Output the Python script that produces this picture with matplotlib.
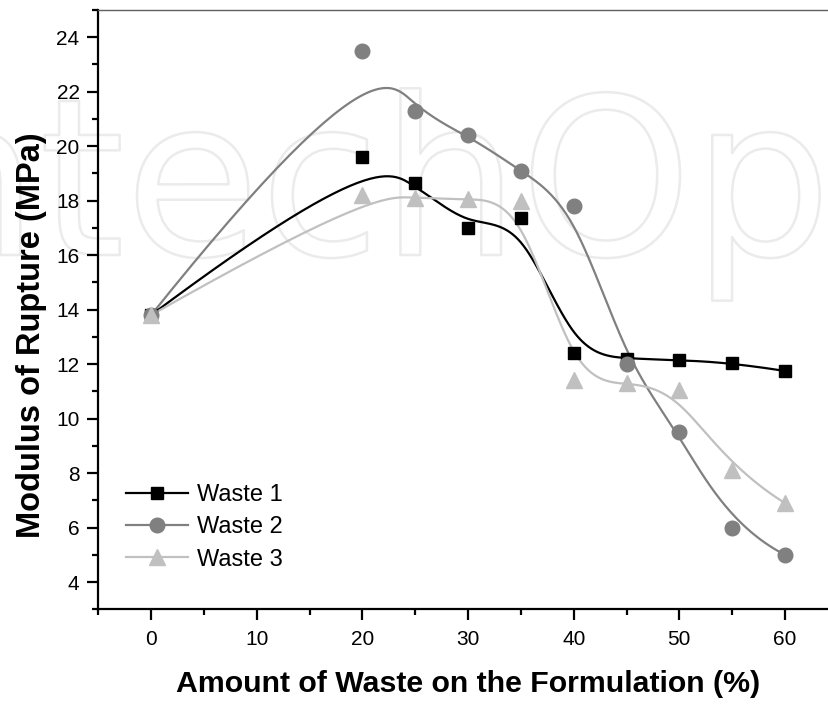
import numpy as np
import matplotlib
matplotlib.use("Agg")
import matplotlib.pyplot as plt
import matplotlib.patheffects as pe
from matplotlib.ticker import MultipleLocator

plt.rcParams['font.family'] = ['Liberation Sans', 'DejaVu Sans']

# data
waste_pct = [0, 20, 25, 30, 35, 40, 45, 50, 55, 60]
waste1 = [13.8, 19.6, 18.65, 17.0, 17.35, 12.4, 12.2, 12.15, 12.05, 11.75]
waste2 = [13.8, 23.5, 21.3, 20.4, 19.1, 17.8, 12.0, 9.5, 6.0, 5.0]
waste3 = [13.8, 18.2, 18.1, 18.05, 18.0, 11.4, 11.3, 11.05, 8.1, 6.9]
labels = ['Waste 1', 'Waste 2', 'Waste 3']


def bspline(xs, ys, n=400, k=3):
    # clamped uniform B-spline, data points used as control points
    P = np.column_stack([xs, ys]).astype(float)
    m = len(P)
    knots = np.concatenate([[0] * k, np.arange(m - k + 1), [m - k] * k]).astype(float)
    t = np.linspace(0, m - k, n)
    B = np.zeros((n, len(knots) - 1))
    for i in range(len(knots) - 1):
        B[:, i] = (knots[i] <= t) & (t < knots[i + 1])
    B[-1, m - 1] = 1.0
    for p in range(1, k + 1):
        Bn = np.zeros((n, len(knots) - 1 - p))
        for i in range(len(knots) - 1 - p):
            d1 = knots[i + p] - knots[i]
            d2 = knots[i + p + 1] - knots[i + 1]
            if d1 > 0:
                Bn[:, i] += (t - knots[i]) / d1 * B[:, i]
            if d2 > 0:
                Bn[:, i] += (knots[i + p + 1] - t) / d2 * B[:, i + 1]
        B = Bn
    c = B @ P
    return c[:, 0], c[:, 1]


fig = plt.figure(figsize=(8.29, 7.04), dpi=100)
ax = fig.add_axes([0.1186, 0.1345, 0.892, 0.8513])
ax.set_facecolor('none')

# faint outlined watermark behind the plot
fig.text(-0.199, 1 - 255 / 704, 'IntechOpen', fontsize=158, color='none',
         family='DejaVu Sans', ha='left', va='baseline', zorder=-10,
         path_effects=[pe.Stroke(linewidth=1.8, foreground='#ebebeb')])

styles = [
    dict(color='black', marker='s', ms=9),
    dict(color='#808080', marker='o', ms=10.5),
    dict(color='#c0c0c0', marker='^', ms=11),
]
for ys, lab, st in zip([waste1, waste2, waste3], labels, styles):
    sx, sy = bspline(waste_pct, ys)
    ax.plot(sx, sy, color=st['color'], lw=1.6, zorder=2)
    ax.plot(waste_pct, ys, ls='none', marker=st['marker'], ms=st['ms'],
            color=st['color'], mec=st['color'], zorder=3)
    ax.plot([], [], color=st['color'], lw=1.6, marker=st['marker'],
            ms=st['ms'], label=lab)

ax.set_xlim(-5, 65)
ax.set_ylim(3, 25)
ax.xaxis.set_major_locator(MultipleLocator(10))
ax.xaxis.set_minor_locator(MultipleLocator(5))
ax.yaxis.set_minor_locator(MultipleLocator(1))
ax.set_yticks(np.arange(4, 25, 2))

for s in ['left', 'bottom']:
    ax.spines[s].set_linewidth(1.6)
for s in ['top', 'right']:
    ax.spines[s].set_linewidth(1.0)
    ax.spines[s].set_color('#606060')
ax.tick_params(which='major', direction='out', length=8, width=1.6, labelsize=15,
               top=False, right=False)
ax.tick_params(axis='x', which='major', pad=7)
ax.tick_params(axis='y', which='major', pad=5.5)
ax.tick_params(which='minor', direction='out', length=4.5, width=1.6,
               top=False, right=False)

ax.set_xlabel('Amount of Waste on the Formulation (%)', fontsize=21.8,
              fontweight='bold', labelpad=15)
ax.set_ylabel('Modulus of Rupture (MPa)', fontsize=23.5, fontweight='bold')
ax.yaxis.set_label_coords(-0.069, 0.458)

ax.legend(loc='lower left', bbox_to_anchor=(0.006, 0.025), frameon=False, fontsize=17,
          handlelength=2.63, handletextpad=0.38, labelspacing=0.44, borderaxespad=0.6)

fig.savefig('out.png', dpi=100)
